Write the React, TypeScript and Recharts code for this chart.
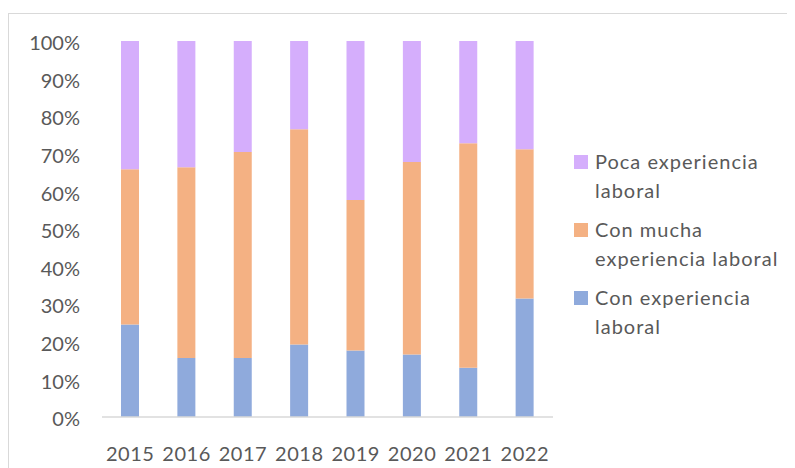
import React from "react";
import { BarChart, Bar, XAxis, YAxis } from "recharts";

const years = ["2015", "2016", "2017", "2018", "2019", "2020", "2021", "2022"];
const conExperiencia = [24.6, 15.7, 15.7, 19.3, 17.7, 16.6, 13.1, 31.5];
const conMucha = [41.3, 50.7, 54.8, 57.2, 40.0, 51.2, 59.7, 39.7];
const pocaExperiencia = [34.1, 33.6, 29.5, 23.5, 42.3, 32.2, 27.2, 28.8];
const yTicks = [0, 10, 20, 30, 40, 50, 60, 70, 80, 90, 100];

// legend order is top to bottom of the stack, with Excel-style line breaks
const legendItems = [
    { color: "#D5AEFC", lines: ["Poca experiencia", "laboral"] },
    { color: "#F4B183", lines: ["Con mucha", "experiencia laboral"] },
    { color: "#8FAADC", lines: ["Con experiencia", "laboral"] },
];

const FONT = "Lato, 'Open Sans', sans-serif";
const TEXT = "#595959";

const chartData = years.map((year, i) => ({
    year,
    con: conExperiencia[i],
    mucha: conMucha[i],
    poca: pocaExperiencia[i],
}));

function LegendBox() {
    return (
        <div
            style={{
                position: "absolute",
                left: 565,
                top: 133,
                fontFamily: FONT,
                fontSize: 20,
                letterSpacing: 1,
                color: TEXT,
            }}
        >
            {legendItems.map((item) => (
                <div key={item.color} style={{ display: "flex", marginBottom: 10 }}>
                    <div
                        style={{
                            width: 14,
                            height: 14,
                            marginTop: 8,
                            marginRight: 7,
                            background: item.color,
                            flexShrink: 0,
                        }}
                    />
                    <div>
                        {item.lines.map((l) => (
                            <div key={l} style={{ lineHeight: "29px", whiteSpace: "nowrap" }}>
                                {l}
                            </div>
                        ))}
                    </div>
                </div>
            ))}
        </div>
    );
}

export default function App() {
    return (
        <div style={{ paddingTop: 5 }}>
            <div
                style={{
                    position: "relative",
                    borderTop: "1px solid #d9d9d9",
                    borderLeft: "1px solid #d9d9d9",
                    width: 786,
                    height: 454,
                    background: "#fff",
                }}
            >
                <BarChart
                    width={786}
                    height={454}
                    data={chartData}
                    margin={{ top: 27, right: 242, left: 0, bottom: 0 }}
                    barSize={18}
                >
                    <XAxis
                        dataKey="year"
                        height={51}
                        axisLine={{ stroke: "#d9d9d9", strokeWidth: 1.5 }}
                        tickLine={false}
                        tickMargin={24}
                        tick={{ fill: TEXT, fontSize: 20, fontFamily: FONT, letterSpacing: 0.5 }}
                    />
                    <YAxis
                        width={93}
                        domain={[0, 100]}
                        ticks={yTicks}
                        interval={0}
                        tickFormatter={(v) => `${v}%`}
                        axisLine={false}
                        tickLine={false}
                        tickMargin={16}
                        tick={{ fill: TEXT, fontSize: 20, fontFamily: FONT, dy: 2 }}
                    />
                    <Bar dataKey="con" stackId="a" fill="#8FAADC" isAnimationActive={false} />
                    <Bar dataKey="mucha" stackId="a" fill="#F4B183" isAnimationActive={false} />
                    <Bar dataKey="poca" stackId="a" fill="#D5AEFC" isAnimationActive={false} />
                </BarChart>
                <LegendBox />
            </div>
        </div>
    );
}
